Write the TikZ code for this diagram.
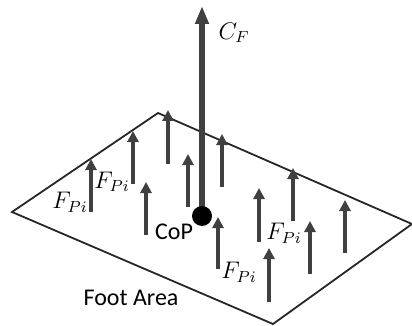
\documentclass[tikz,border=0pt]{standalone}
\usepackage{fontspec}
\setmainfont{Carlito}
\usepackage{xcolor}
\usetikzlibrary{arrows.meta}
\definecolor{forcegray}{HTML}{404040}

\begin{document}
\begin{tikzpicture}[x=0.5pt, y=-0.5pt, every node/.style={font=\fontsize{12}{14}\selectfont, inner sep=0pt},
    force/.style={draw=forcegray, line width=2pt, -{Triangle[length=5.5pt, width=5.5pt]}},
    resultant/.style={draw=forcegray, line width=2.6pt, -{Triangle[length=9pt, width=6.5pt]}},
    mathlabel/.style={font=\fontsize{12}{14}\selectfont}]
        \useasboundingbox (0,0) rectangle (412,326);
        % Foot area
        \draw[line width=0.9pt, draw=black!85, line join=miter] (12,212) -- (158,113) -- (412,224) -- (273,324) -- cycle;

        % Pressure arrows
        \foreach \x/\yb/\yt [count=\i] in {91/212/159, 133/184/131, 168/164/110, 146/235/182,
                188/207/154, 222/187/134, 218/269/217, 259/242/188, 293/221/168,
                269/302/248, 310/274/221, 345/253/200} {
            \coordinate (base\i) at (\x,\yb);
            \coordinate (tip\i) at (\x,\yt);
            \draw[force] (base\i) -- (tip\i);
        }

        % Resultant force at CoP
        \coordinate (cftip) at (202,6);
        \draw[resultant] (202,216) -- (cftip);
        \node[circle, fill=black, minimum size=10pt] (cop) at (202,216) {};

        % Labels
        \node[mathlabel] (cf) at (234,33) {$C_F$};
        \node[mathlabel] (fp1) at (70,202) {$F_{Pi}$};
        \node[mathlabel] (fp2) at (112,182) {$F_{Pi}$};
        \node[mathlabel] (fp3) at (284,233) {$F_{Pi}$};
        \node[mathlabel] (fp4) at (239,272) {$F_{Pi}$};
        \node (coplabel) at (174,232) {CoP};
        \node (foot) at (131,298) {Foot Area};
    \end{tikzpicture}
\end{document}
